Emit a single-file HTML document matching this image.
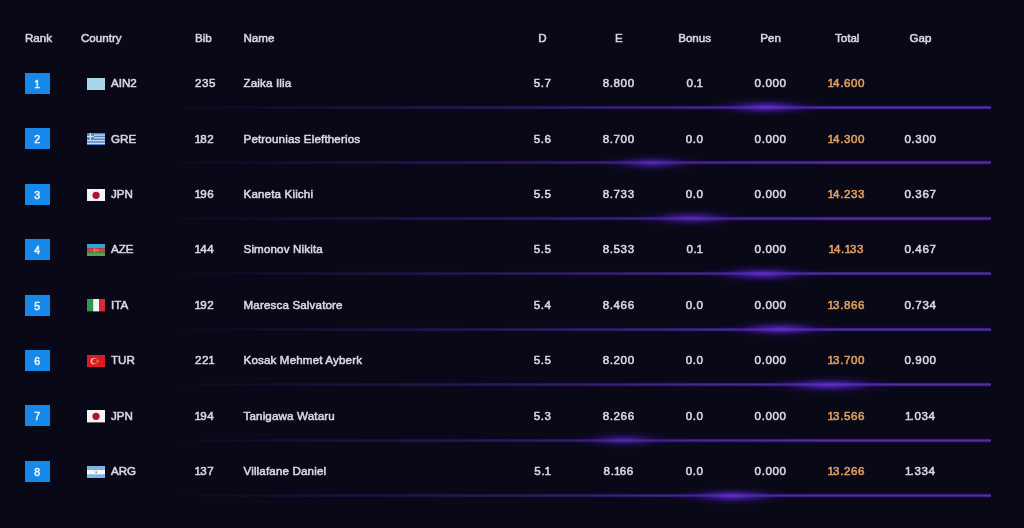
<!DOCTYPE html>
<html><head><meta charset="utf-8"><title>Results</title>
<style>
html,body{margin:0;padding:0;}
body{width:1024px;height:528px;overflow:hidden;background:#080816;position:relative;
font-family:"Liberation Sans",sans-serif;color:#d8d8e0;font-size:11.6px;-webkit-text-stroke:0.55px currentColor;}
.t{position:absolute;white-space:nowrap;line-height:14px;height:14px;}
.c{transform:translateX(-50%);}
.h{color:#d6d6de;}
.rk{position:absolute;left:25px;width:24.5px;height:21px;background:#1688ea;color:#e8f4ff;
text-align:center;line-height:23px;font-size:10.5px;}
.flag{position:absolute;left:86.6px;width:18.4px;height:12.4px;display:block;}
.tot{color:#e2a060;}
.n{letter-spacing:0.6px;}
.n i{font-style:normal;margin-left:-0.4px;letter-spacing:-0.9px;}
.n b{font-weight:normal;margin-left:-0.8px;letter-spacing:0;}
.nm{letter-spacing:0.15px;}
.ln{position:absolute;left:140px;width:851px;height:7px;
-webkit-mask-image:linear-gradient(90deg,rgba(0,0,0,0) 0%,rgba(0,0,0,.1) 10%,rgba(0,0,0,.27) 25%,rgba(0,0,0,.5) 45%,rgba(0,0,0,.82) 65%,#000 82%,#000 100%);
mask-image:linear-gradient(90deg,rgba(0,0,0,0) 0%,rgba(0,0,0,.1) 10%,rgba(0,0,0,.27) 25%,rgba(0,0,0,.5) 45%,rgba(0,0,0,.82) 65%,#000 82%,#000 100%);
background:linear-gradient(180deg,rgba(20,2,62,.3) 0px,rgba(20,2,62,.3) 1px,rgba(22,3,66,.9) 1px,rgba(22,3,66,.9) 2px,rgb(58,34,122) 2px,rgb(58,34,122) 3px,rgb(80,50,150) 3px,rgb(80,50,150) 4px,rgb(62,37,128) 4px,rgb(62,37,128) 5px,rgba(22,3,66,.9) 5px,rgba(22,3,66,.9) 6px,rgba(20,2,62,.3) 6px,rgba(20,2,62,.3) 7px);}
.gl{position:absolute;width:124px;height:20px;margin-left:-62px;margin-top:-10px;
background:radial-gradient(ellipse closest-side at center,rgba(100,46,215,.85) 0%,rgba(86,38,192,.55) 30%,rgba(60,20,155,.2) 65%,rgba(40,10,120,0) 100%);}
</style></head><body>

<div class="t h" style="left:25px;top:30.90px">Rank</div>
<div class="t h" style="left:81px;top:30.90px">Country</div>
<div class="t h" style="left:195px;top:30.90px">Bib</div>
<div class="t h" style="left:243.5px;top:30.90px">Name</div>
<div class="t c h" style="left:542.5px;top:30.90px">D</div>
<div class="t c h" style="left:618.9px;top:30.90px">E</div>
<div class="t c h" style="left:694.6px;top:30.90px">Bonus</div>
<div class="t c h" style="left:770.6px;top:30.90px">Pen</div>
<div class="t c h" style="left:847.2px;top:30.90px">Total</div>
<div class="t c h" style="left:920.5px;top:30.90px">Gap</div>
<div class="rk" style="top:72.70px">1</div>
<div class="flag" style="top:77.60px;background:#a9d6e8;"></div>
<div class="t" style="left:111px;top:76.10px">AIN2</div>
<div class="t n" style="left:195px;top:76.10px">235</div>
<div class="t nm" style="left:243.5px;top:76.10px">Zaika Ilia</div>
<div class="t c n" style="left:542.6px;top:76.10px">5.7</div>
<div class="t c n" style="left:618.7px;top:76.10px">8.800</div>
<div class="t c n" style="left:694.7px;top:76.10px">0.<b>1</b></div>
<div class="t c n" style="left:770.6px;top:76.10px">0.000</div>
<div class="t c tot n" style="left:846.5px;top:76.10px"><i>1</i>4.600</div>
<div class="ln" style="top:104px"></div>
<div class="gl" style="left:766px;top:107.40px;opacity:1;width:124px;margin-left:-62.0px"></div>
<div class="rk" style="top:128.15px">2</div>
<svg class="flag" style="top:133.05px" viewBox="0 0 27 18" preserveAspectRatio="none"><rect width="27" height="18" fill="#4a80c0"/><g fill="#c4def4"><rect y="2" width="27" height="2"/><rect y="6" width="27" height="2"/><rect y="10" width="27" height="2"/><rect y="14" width="27" height="2"/></g><rect width="10" height="10" fill="#4a80c0"/><rect x="4" width="2" height="10" fill="#cfe6f8"/><rect y="4" width="10" height="2" fill="#cfe6f8"/></svg>
<div class="t" style="left:111px;top:131.55px">GRE</div>
<div class="t n" style="left:195px;top:131.55px"><i>1</i>82</div>
<div class="t nm" style="left:243.5px;top:131.55px">Petrounias Eleftherios</div>
<div class="t c n" style="left:542.6px;top:131.55px">5.6</div>
<div class="t c n" style="left:618.7px;top:131.55px">8.700</div>
<div class="t c n" style="left:694.7px;top:131.55px">0.0</div>
<div class="t c n" style="left:770.6px;top:131.55px">0.000</div>
<div class="t c tot n" style="left:846.5px;top:131.55px"><i>1</i>4.300</div>
<div class="t c n" style="left:920.5px;top:131.55px">0.300</div>
<div class="ln" style="top:159px"></div>
<div class="gl" style="left:652px;top:162.85px;opacity:0.8;width:112px;margin-left:-56.0px"></div>
<div class="rk" style="top:183.60px">3</div>
<svg class="flag" style="top:188.50px" viewBox="0 0 27 18" preserveAspectRatio="none"><rect width="27" height="18" fill="#f4f4f4"/><circle cx="13.3" cy="9.2" r="5.3" fill="#b01040"/></svg>
<div class="t" style="left:111px;top:187.00px">JPN</div>
<div class="t n" style="left:195px;top:187.00px"><i>1</i>96</div>
<div class="t nm" style="left:243.5px;top:187.00px">Kaneta Kiichi</div>
<div class="t c n" style="left:542.6px;top:187.00px">5.5</div>
<div class="t c n" style="left:618.7px;top:187.00px">8.733</div>
<div class="t c n" style="left:694.7px;top:187.00px">0.0</div>
<div class="t c n" style="left:770.6px;top:187.00px">0.000</div>
<div class="t c tot n" style="left:846.5px;top:187.00px"><i>1</i>4.233</div>
<div class="t c n" style="left:920.5px;top:187.00px">0.367</div>
<div class="ln" style="top:215px"></div>
<div class="gl" style="left:691px;top:218.30px;opacity:0.85;width:120px;margin-left:-60.0px"></div>
<div class="rk" style="top:239.05px">4</div>
<svg class="flag" style="top:243.95px" viewBox="0 0 27 18" preserveAspectRatio="none"><rect width="27" height="6" fill="#33a6d2"/><rect y="6" width="27" height="6" fill="#cc4448"/><rect y="12" width="27" height="6" fill="#55a448"/><circle cx="12.5" cy="9" r="2.6" fill="#e8c8c8"/><circle cx="13.3" cy="9" r="2.1" fill="#cc4448"/><circle cx="15.6" cy="9" r="1" fill="#e8c8c8"/></svg>
<div class="t" style="left:111px;top:242.45px">AZE</div>
<div class="t n" style="left:195px;top:242.45px"><i>1</i>44</div>
<div class="t nm" style="left:243.5px;top:242.45px">Simonov Nikita</div>
<div class="t c n" style="left:542.6px;top:242.45px">5.5</div>
<div class="t c n" style="left:618.7px;top:242.45px">8.533</div>
<div class="t c n" style="left:694.7px;top:242.45px">0.<b>1</b></div>
<div class="t c n" style="left:770.6px;top:242.45px">0.000</div>
<div class="t c tot n" style="left:846.5px;top:242.45px"><i>1</i>4.<i>1</i>33</div>
<div class="t c n" style="left:920.5px;top:242.45px">0.467</div>
<div class="ln" style="top:270px"></div>
<div class="gl" style="left:763px;top:273.75px;opacity:1;width:124px;margin-left:-62.0px"></div>
<div class="rk" style="top:294.50px">5</div>
<svg class="flag" style="top:299.40px" viewBox="0 0 27 18" preserveAspectRatio="none"><rect width="9" height="18" fill="#2e9a4e"/><rect x="9" width="9" height="18" fill="#f6f6f6"/><rect x="18" width="9" height="18" fill="#d8283a"/></svg>
<div class="t" style="left:111px;top:297.90px">ITA</div>
<div class="t n" style="left:195px;top:297.90px"><i>1</i>92</div>
<div class="t nm" style="left:243.5px;top:297.90px">Maresca Salvatore</div>
<div class="t c n" style="left:542.6px;top:297.90px">5.4</div>
<div class="t c n" style="left:618.7px;top:297.90px">8.466</div>
<div class="t c n" style="left:694.7px;top:297.90px">0.0</div>
<div class="t c n" style="left:770.6px;top:297.90px">0.000</div>
<div class="t c tot n" style="left:846.5px;top:297.90px"><i>1</i>3.866</div>
<div class="t c n" style="left:920.5px;top:297.90px">0.734</div>
<div class="ln" style="top:326px"></div>
<div class="gl" style="left:780px;top:329.20px;opacity:1;width:124px;margin-left:-62.0px"></div>
<div class="rk" style="top:349.95px">6</div>
<svg class="flag" style="top:354.85px" viewBox="0 0 27 18" preserveAspectRatio="none"><rect width="27" height="18" fill="#da1c24"/><circle cx="10" cy="9" r="4.6" fill="#f4b8b8"/><circle cx="11.3" cy="9" r="3.6" fill="#da1c24"/><circle cx="15.6" cy="9" r="1.5" fill="#f08888"/></svg>
<div class="t" style="left:111px;top:353.35px">TUR</div>
<div class="t n" style="left:195px;top:353.35px">22<b>1</b></div>
<div class="t nm" style="left:243.5px;top:353.35px">Kosak Mehmet Ayberk</div>
<div class="t c n" style="left:542.6px;top:353.35px">5.5</div>
<div class="t c n" style="left:618.7px;top:353.35px">8.200</div>
<div class="t c n" style="left:694.7px;top:353.35px">0.0</div>
<div class="t c n" style="left:770.6px;top:353.35px">0.000</div>
<div class="t c tot n" style="left:846.5px;top:353.35px"><i>1</i>3.700</div>
<div class="t c n" style="left:920.5px;top:353.35px">0.900</div>
<div class="ln" style="top:381px"></div>
<div class="gl" style="left:830px;top:384.65px;opacity:1;width:140px;margin-left:-70.0px"></div>
<div class="rk" style="top:405.40px">7</div>
<svg class="flag" style="top:410.30px" viewBox="0 0 27 18" preserveAspectRatio="none"><rect width="27" height="18" fill="#f4f4f4"/><circle cx="13.3" cy="9.2" r="5.3" fill="#b01040"/></svg>
<div class="t" style="left:111px;top:408.80px">JPN</div>
<div class="t n" style="left:195px;top:408.80px"><i>1</i>94</div>
<div class="t nm" style="left:243.5px;top:408.80px">Tanigawa Wataru</div>
<div class="t c n" style="left:542.6px;top:408.80px">5.3</div>
<div class="t c n" style="left:618.7px;top:408.80px">8.266</div>
<div class="t c n" style="left:694.7px;top:408.80px">0.0</div>
<div class="t c n" style="left:770.6px;top:408.80px">0.000</div>
<div class="t c tot n" style="left:846.5px;top:408.80px"><i>1</i>3.566</div>
<div class="t c n" style="left:920.5px;top:408.80px"><i>1</i>.034</div>
<div class="ln" style="top:437px"></div>
<div class="gl" style="left:624px;top:440.10px;opacity:0.7;width:112px;margin-left:-56.0px"></div>
<div class="rk" style="top:460.85px">8</div>
<svg class="flag" style="top:465.75px" viewBox="0 0 27 18" preserveAspectRatio="none"><rect width="27" height="18" fill="#7db6e2"/><rect y="6" width="27" height="6" fill="#f6f6f6"/><circle cx="13.5" cy="9" r="1.5" fill="#b09060"/></svg>
<div class="t" style="left:111px;top:464.25px">ARG</div>
<div class="t n" style="left:195px;top:464.25px"><i>1</i>37</div>
<div class="t nm" style="left:243.5px;top:464.25px">Villafane Daniel</div>
<div class="t c n" style="left:542.6px;top:464.25px">5.<b>1</b></div>
<div class="t c n" style="left:618.7px;top:464.25px">8.<i>1</i>66</div>
<div class="t c n" style="left:694.7px;top:464.25px">0.0</div>
<div class="t c n" style="left:770.6px;top:464.25px">0.000</div>
<div class="t c tot n" style="left:846.5px;top:464.25px"><i>1</i>3.266</div>
<div class="t c n" style="left:920.5px;top:464.25px"><i>1</i>.334</div>
<div class="ln" style="top:492px"></div>
<div class="gl" style="left:733px;top:495.55px;opacity:1;width:124px;margin-left:-62.0px"></div>
</body></html>
